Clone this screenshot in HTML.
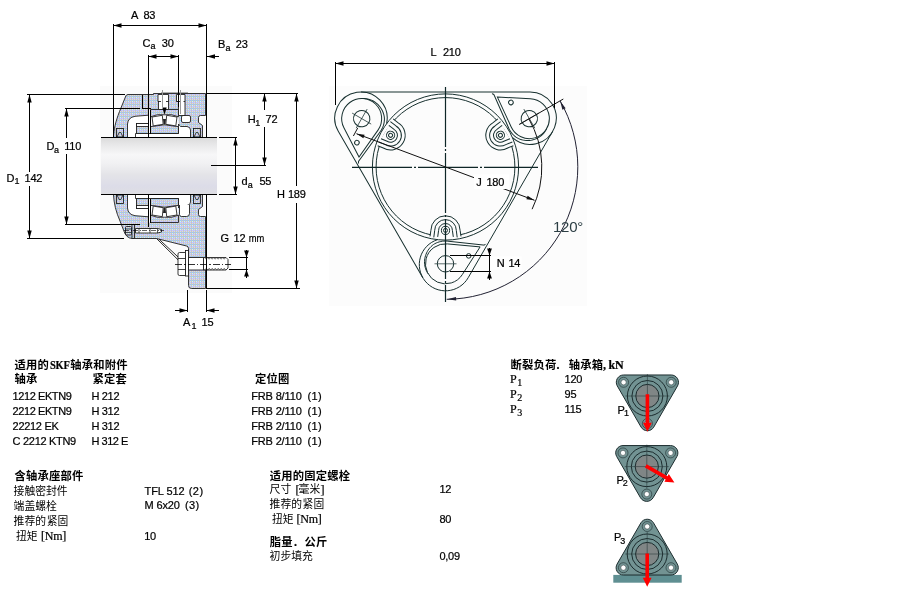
<!DOCTYPE html>
<html><head><meta charset="utf-8"><title>TFL 512</title>
<style>
html,body{margin:0;padding:0;background:#fff}
body{width:900px;height:600px;position:relative;overflow:hidden;font-family:"Liberation Sans",sans-serif}
svg{position:absolute;left:0;top:0;display:block;will-change:transform}
text{font-family:"Liberation Sans",sans-serif;font-size:11px;fill:#000;letter-spacing:-.25px;stroke:#000;stroke-width:.22px}
text.cb{font-family:"Liberation Sans","Noto Sans CJK SC",sans-serif;font-size:11.3px;font-weight:bold;stroke:none;letter-spacing:.2px}
text.cr{font-family:"Liberation Sans","Noto Sans CJK SC",sans-serif;font-size:10.8px;stroke:none;letter-spacing:0}
.ln{stroke:#000;stroke-width:1;fill:none;shape-rendering:crispEdges}
.o{stroke:#151515;stroke-width:.85}
.t{stroke:#17302f;stroke-width:1}
</style></head><body>
<svg width="900" height="600" viewBox="0 0 900 600">
<defs>
<pattern id="dz" width="4" height="4" patternUnits="userSpaceOnUse" shape-rendering="crispEdges">
<rect width="4" height="4" fill="#c6c6c6"/>
<rect x="0" y="0" width="1" height="1" fill="#92c6ff"/><rect x="2" y="0" width="1" height="1" fill="#92c6ff"/>
<rect x="0" y="1" width="1" height="1" fill="#c4fafa"/><rect x="2" y="1" width="1" height="1" fill="#dcdcdc"/>
<rect x="0" y="2" width="3" height="1" fill="#c4c4ff"/>
<rect x="0" y="3" width="1" height="1" fill="#dcdcdc"/><rect x="2" y="3" width="1" height="1" fill="#dcdcdc"/>
</pattern>
<linearGradient id="sh" x1="0" y1="0" x2="0" y2="1">
<stop offset="0" stop-color="#dadada"/><stop offset=".1" stop-color="#e5e5e6"/><stop offset=".3" stop-color="#f7f7f8"/><stop offset=".45" stop-color="#f1f1f3"/><stop offset=".65" stop-color="#e4e4e8"/><stop offset=".85" stop-color="#dcdce8"/><stop offset="1" stop-color="#dedee3"/>
</linearGradient>
</defs>
<rect x="100" y="86" width="132" height="207" fill="#fbfbfb"/><path class="o" d="M113.5,137.5 C113.8,129 115.5,122 119.5,111.5 L125.8,96 Q126.3,94.5 128,94.5 L153.5,94.5 L153.5,93.5 L205.5,93.5 L205.5,115.5 L200.5,115.5 Q198.5,115.5 198.5,117.5 L198.5,122.5 L202.5,125.5 L202.5,137.5 Z" fill="url(#dz)"/><path class="o" d="M127.5,137.5 L127.5,124 Q128,117.5 135,116.3 L148.5,115.2 L148.5,137.5 Z" fill="#fff"/><rect class="o" x="116.5" y="128.5" width="7" height="8.5" fill="url(#dz)"/><path fill="none" style="stroke-width:.8" class="o" d="M117,137 L119.2,132.5 L120.8,132.5 L123,137"/><rect class="o" x="136.5" y="123.5" width="12" height="10.5" fill="url(#dz)"/><rect class="o" x="136.5" y="123.5" width="12" height="3" fill="#fff"/><rect x="148.5" y="109.5" width="30" height="28" fill="#fff"/><path class="o" d="M178.5,124 L180.5,126.5 L187,126.5 Q190.5,127 190.5,130 L190.5,137.5 L135.5,137.5 L135.5,133.5 L178.5,133.5 Z" fill="#fff"/><path class="o" d="M150.5,109.5 H178.5 V116.8 Q171.5,113.6 164.5,114.8 Q157.5,113.6 150.5,116.8 Z" fill="url(#dz)"/><path class="o" d="M150.5,133.5 V126.6 L153.3,126.3 L163.4,124.9 L165.6,124.9 L175.7,126.3 L178.5,126.6 V133.5 Z" fill="url(#dz)"/><polygon class="o" points="152,117 162.3,115.3 163.2,124.3 153.2,125.9" fill="#fff"/><polygon class="o" points="166.7,115.3 177,117 175.8,125.9 165.8,124.3" fill="#fff"/><path d="M163,119 L166,119 L165.3,124.5 L163.7,124.5 Z" fill="#222"/><path class="ln" d="M148.5,108.5 V137.5 M150.5,109.5 V133.5"/><rect class="o" x="181.5" y="115.5" width="9" height="7" rx="1.5" fill="#fff"/><rect class="o" x="193.5" y="128.5" width="7" height="8.5" fill="url(#dz)"/><path fill="none" style="stroke-width:.8" class="o" d="M194,137 L196.2,132.5 L197.8,132.5 L200,137"/><path class="ln" d="M142.5,94.5 V108.5 H150.5"/><path class="o" d="M158,94.5 H168.5 V109.5 H158.5 V101.5 H158 Z" fill="#fff"/><path fill="none" class="o" d="M158,101.5 H161 M166,101.5 H168.5" /><path class="o" d="M176.5,94.5 H185 V115.5 H178.5 V101.5 H176.5 Z" fill="#fff"/><path fill="none" class="o" d="M176.5,101.5 H180 M183.5,101.5 H185" /><path style="stroke:#b0b0b0" class="ln" d="M161,92.5 H188"/><path style="stroke:#999" class="ln" d="M162.5,90 V107 M180.5,90 V114"/><polygon points="162.3,107.5 166.7,107.5 164.5,114.8" fill="#000"/><path class="o" d="M113.5,194.5 C113.8,203 116,212 120,221 L123.5,230 Q126,238.5 132.5,238.5 L156.5,238.5 L186.5,246 Q188.5,246.5 188.5,248.5 L188.5,285.5 Q188.5,288.5 191.5,288.5 L205.5,288.5 L205.5,216.5 L200.5,216.5 Q198.5,216.5 198.5,214.5 L198.5,209.5 L202.5,206.5 L202.5,194.5 Z" fill="url(#dz)"/><g transform="translate(0,332) scale(1,-1)"><path class="o" d="M127.5,137.5 L127.5,124 Q128,117.5 135,116.3 L148.5,115.2 L148.5,137.5 Z" fill="#fff"/><rect class="o" x="116.5" y="128.5" width="7" height="8.5" fill="url(#dz)"/><path fill="none" style="stroke-width:.8" class="o" d="M117,137 L119.2,132.5 L120.8,132.5 L123,137"/><rect class="o" x="136.5" y="123.5" width="12" height="10.5" fill="url(#dz)"/><rect class="o" x="136.5" y="123.5" width="12" height="3" fill="#fff"/><rect x="148.5" y="109.5" width="30" height="28" fill="#fff"/><path class="o" d="M178.5,124 L180.5,126.5 L187,126.5 Q190.5,127 190.5,130 L190.5,137.5 L135.5,137.5 L135.5,133.5 L178.5,133.5 Z" fill="#fff"/><path class="o" d="M150.5,109.5 H178.5 V116.8 Q171.5,113.6 164.5,114.8 Q157.5,113.6 150.5,116.8 Z" fill="url(#dz)"/><path class="o" d="M150.5,133.5 V126.6 L153.3,126.3 L163.4,124.9 L165.6,124.9 L175.7,126.3 L178.5,126.6 V133.5 Z" fill="url(#dz)"/><polygon class="o" points="152,117 162.3,115.3 163.2,124.3 153.2,125.9" fill="#fff"/><polygon class="o" points="166.7,115.3 177,117 175.8,125.9 165.8,124.3" fill="#fff"/><path d="M163,119 L166,119 L165.3,124.5 L163.7,124.5 Z" fill="#222"/><path class="ln" d="M148.5,108.5 V137.5 M150.5,109.5 V133.5"/><path class="o" d="M179.5,127 V117.5 Q179.5,115.5 181.5,115.5 H186.5 Q189.5,115.5 189.5,118.5 V127" fill="#fff"/><rect class="o" x="193.5" y="128.5" width="7" height="8.5" fill="url(#dz)"/><path fill="none" style="stroke-width:.8" class="o" d="M194,137 L196.2,132.5 L197.8,132.5 L200,137"/></g><path class="ln" d="M148.5,223.5 V226.5"/><path fill="none" style="stroke-width:.9" class="o" d="M156.5,238.5 L178,259.8 M159,239.2 L179.8,258.6"/><rect class="o" x="132" y="224.5" width="2.5" height="14" fill="url(#dz)"/><rect class="o" x="125.5" y="226.5" width="6" height="8.5" fill="url(#dz)" rx="1"/><path fill="none" style="stroke-width:.7" class="o" d="M125.5,229 H131 M125.5,232.5 H131"/><path class="o" d="M135.5,228.5 H157.5 L161.5,229.5 V232 L157.5,233 H135.5 Z" fill="#fff"/><path fill="none" style="stroke-width:.7" class="o" d="M139,228.5 V233 M150,228.5 V233 M157.5,228.5 V233"/><path style="stroke-width:.6;stroke-dasharray:5 1.5 1 1.5" class="ln" d="M124,230.5 H164"/><rect class="o" x="188.5" y="257.5" width="15" height="12.5" fill="#fff"/><rect class="o" x="185.5" y="250.5" width="3" height="25.5" fill="#fff"/><path class="o" d="M179.5,252.5 H185.5 V275.5 H179.5 Q178,275.5 178,274 V254 Q178,252.5 179.5,252.5 Z" fill="#fff"/><path fill="none" style="stroke-width:.8" class="o" d="M178,258.5 H185.5 M178,269.5 H185.5"/><path class="o" d="M203.5,257.5 H226 L228,259.5 V268 L226,270 H203.5 Z" fill="#fff"/><path fill="none" style="stroke:#333;stroke-width:.7" class="o" d="M203.5,258.6 L204.75,257.4  L206.25,259.2  L207.75,257.4  L209.25,259.2  L210.75,257.4  L212.25,259.2  L213.75,257.4  L215.25,259.2  L216.75,257.4  L218.25,259.2  L219.75,257.4  L221.25,259.2  L222.75,257.4  L224.25,259.2  L225.75,257.4  M203.5,268.9 L204.75,270.1  L206.25,268.3  L207.75,270.1  L209.25,268.3  L210.75,270.1  L212.25,268.3  L213.75,270.1  L215.25,268.3  L216.75,270.1  L218.25,268.3  L219.75,270.1  L221.25,268.3  L222.75,270.1  L224.25,268.3  L225.75,270.1 "/><path style="stroke-width:.8;stroke-dasharray:7 2 1.5 2" class="ln" d="M175,264.5 H231"/><path class="ln" d="M206.5,194.5 V289"/><rect x="101" y="137.5" width="116" height="57" fill="url(#sh)"/><path class="ln" d="M101,137.5 H217 M101,194.5 H217"/><path class="ln" d="M113.5,24 V137 M206.5,24 V137 M113.5,25.5 H206.5"/><polygon points="113.5,25.5 121.5,23.3 121.5,27.7" fill="#000"/><polygon points="206.5,25.5 198.5,27.7 198.5,23.3" fill="#000"/><text x="131" y="18.6">A</text><text x="143.5" y="18.6">83</text><path class="ln" d="M148.5,55 V108 M178.5,55 V107 M148.5,56.5 H178.5"/><polygon points="148.5,56.5 156.5,54.3 156.5,58.7" fill="#000"/><polygon points="178.5,56.5 170.5,58.7 170.5,54.3" fill="#000"/><text x="142.5" y="46.6">C</text><text x="150.6" y="49.2" style="font-size:9px;">a</text><text x="161.8" y="46.6">30</text><path class="ln" d="M207,56.5 H219"/><polygon points="207.0,56.5 215.0,54.3 215.0,58.7" fill="#000"/><text x="218" y="48.4">B</text><text x="225.4" y="51.2" style="font-size:9px;">a</text><text x="235.8" y="48.4">23</text><path class="ln" d="M27,94.5 H125 M27,238.5 H124 M29.5,95 V171.5 M29.5,185.5 V238"/><polygon points="29.5,94.5 31.7,102.5 27.3,102.5" fill="#000"/><polygon points="29.5,238.5 27.3,230.5 31.7,230.5" fill="#000"/><text x="6.5" y="181.6">D</text><text x="14.6" y="184.2" style="font-size:9px;">1</text><text x="24.6" y="181.6">142</text><path class="ln" d="M65,108.5 H140 M65,224.5 H140 M66.5,109 V137.5 M66.5,154 V224"/><polygon points="66.5,108.5 68.7,116.5 64.3,116.5" fill="#000"/><polygon points="66.5,224.5 64.3,216.5 68.7,216.5" fill="#000"/><text x="46.5" y="149.8">D</text><text x="54" y="152.5" style="font-size:9px;">a</text><text x="64.3" y="149.8">110</text><path class="ln" d="M207,93.5 H298 M207,288.5 H300 M296.5,94 V186 M296.5,203 V288 M264.5,94 V110 M264.5,127 V165 M211,165.5 H266"/><polygon points="296.5,93.5 298.7,101.5 294.3,101.5" fill="#000"/><polygon points="296.5,288.5 294.3,280.5 298.7,280.5" fill="#000"/><polygon points="264.5,93.5 266.7,101.5 262.3,101.5" fill="#000"/><polygon points="264.5,165.5 262.3,157.5 266.7,157.5" fill="#000"/><text x="247.8" y="122.6">H</text><text x="255.2" y="125.6" style="font-size:9px;">1</text><text x="265.6" y="122.6">72</text><text x="277" y="198.2">H</text><text x="288" y="198.2">189</text><path class="ln" d="M219,137.5 H237 M219,194.5 H237 M235.5,138 V194"/><polygon points="235.5,137.5 237.7,145.5 233.3,145.5" fill="#000"/><polygon points="235.5,194.5 233.3,186.5 237.7,186.5" fill="#000"/><text x="241.4" y="185">d</text><text x="247.8" y="188" style="font-size:9px;">a</text><text x="259.5" y="185">55</text><path class="ln" d="M229,257.5 H248 M229,269.5 H248 M246.5,249.5 V277.5"/><polygon points="246.5,257.5 244.1,250.5 248.9,250.5" fill="#000"/><polygon points="246.5,269.5 248.9,276.5 244.1,276.5" fill="#000"/><text x="220.4" y="241.8">G</text><text x="233.6" y="241.8">12</text><text x="248.8" y="241.8" textLength="15.2" lengthAdjust="spacingAndGlyphs">mm</text><path class="ln" d="M187.5,290 V312 M206.5,290 V312 M175,310.5 H187 M207,310.5 H219"/><polygon points="187.5,310.5 179.5,312.7 179.5,308.3" fill="#000"/><polygon points="206.5,310.5 214.5,308.3 214.5,312.7" fill="#000"/><text x="183" y="325.5">A</text><text x="191.6" y="328.6" style="font-size:9px;">1</text><text x="201.6" y="325.5">15</text><rect x="329" y="86" width="258" height="220" fill="#fcfcfc"/><g transform="rotate(0 445.5 167.0)"><path class="t" d="M552.7,131.3 L468.2,277.7 A26.2,26.2 0 1 1 437.4,239.7" fill="none"/></g><g transform="rotate(120 445.5 167.0)"><path class="t" d="M552.7,131.3 L468.2,277.7 A26.2,26.2 0 1 1 437.4,239.7" fill="none"/></g><g transform="rotate(240 445.5 167.0)"><path class="t" d="M552.7,131.3 L468.2,277.7 A26.2,26.2 0 1 1 437.4,239.7" fill="none"/></g><circle fill="none" class="t" cx="445.5" cy="167.0" r="73.1"/><circle fill="none" class="t" cx="445.5" cy="167.0" r="69.4"/><g transform="rotate(0 445.5 167.0)"><path class="t" d="M428.2,273.8 L427.4,272.6 L426.7,271.4 L426.1,270.1 L425.6,268.8 L425.2,267.4 L424.9,266.0 L424.6,264.5 L424.5,263.1 L424.5,261.6 L424.6,260.1 L424.8,258.6 L425.1,257.2 L425.5,255.7 L426.0,254.3 L426.6,252.9 L427.3,251.5 L428.1,250.2 L429.0,248.9 L430.0,247.7 L431.0,246.6 L432.2,245.5 L433.5,244.5 L434.8,243.7 L436.2,243.0 L437.7,242.4 L439.2,241.9 L440.8,241.5 L442.3,241.2 L443.9,241.1 L445.5,241.0 L447.1,241.1 L484.0,245.1 Q485.2,244.9 485.8,243.9" fill="none"/><path class="t" d="M480.1,246.9 L462.3,274.6 A20,20 0 1 1 447.3,243.9 Z" fill="none"/><circle fill="none" class="t" cx="445.5" cy="263.8" r="8.2"/><path fill="none" style="stroke-width:.7" class="t" d="M434.5,263.8 H456.5 M445.5,252.8 V274.8"/><circle fill="none" class="t" cx="468.7" cy="255.9" r="2.3"/><path d="M430.0,236.9 L430.9,230.4 A14.6,14.6 0 0 1 460.1,230.4 L461.0,236.9 Z" fill="#fcfcfc" stroke="none"/><path fill="none" class="t" d="M430.0,236.4 L430.9,230.4 A14.6,14.6 0 0 1 460.1,230.4 L461.0,236.4"/><path fill="none" class="t" d="M433.8,237.4 L434.7,230.4 A10.8,10.8 0 0 1 456.3,230.4 L457.2,237.4"/><path fill="none" class="t" d="M437.70000000000005,236.9 L438.6,230.4 A6.9,6.9 0 0 1 452.4,230.4 L453.29999999999995,236.9"/><circle fill="none" class="t" cx="445.5" cy="230.4" r="4.1"/><circle fill="none" class="t" cx="445.5" cy="230.4" r="2"/></g><g transform="rotate(120 445.5 167.0)"><path class="t" d="M428.2,273.8 L427.4,272.6 L426.7,271.4 L426.1,270.1 L425.6,268.8 L425.2,267.4 L424.9,266.0 L424.6,264.5 L424.5,263.1 L424.5,261.6 L424.6,260.1 L424.8,258.6 L425.1,257.2 L425.5,255.7 L426.0,254.3 L426.6,252.9 L427.3,251.5 L428.1,250.2 L429.0,248.9 L430.0,247.7 L431.0,246.6 L432.2,245.5 L433.5,244.5 L434.8,243.7 L436.2,243.0 L437.7,242.4 L439.2,241.9 L440.8,241.5 L442.3,241.2 L443.9,241.1 L445.5,241.0 L447.1,241.1 L484.0,245.1 Q485.2,244.9 485.8,243.9" fill="none"/><path class="t" d="M480.1,246.9 L462.3,274.6 A20,20 0 1 1 447.3,243.9 Z" fill="none"/><circle fill="none" class="t" cx="445.5" cy="263.8" r="8.2"/><path fill="none" style="stroke-width:.7" class="t" d="M434.5,263.8 H456.5 M445.5,252.8 V274.8"/><circle fill="none" class="t" cx="468.7" cy="255.9" r="2.3"/><path d="M430.0,236.9 L430.9,230.4 A14.6,14.6 0 0 1 460.1,230.4 L461.0,236.9 Z" fill="#fcfcfc" stroke="none"/><path fill="none" class="t" d="M430.0,236.4 L430.9,230.4 A14.6,14.6 0 0 1 460.1,230.4 L461.0,236.4"/><path fill="none" class="t" d="M433.8,237.4 L434.7,230.4 A10.8,10.8 0 0 1 456.3,230.4 L457.2,237.4"/><path fill="none" class="t" d="M437.70000000000005,236.9 L438.6,230.4 A6.9,6.9 0 0 1 452.4,230.4 L453.29999999999995,236.9"/><circle fill="none" class="t" cx="445.5" cy="230.4" r="4.1"/><circle fill="none" class="t" cx="445.5" cy="230.4" r="2"/></g><g transform="rotate(240 445.5 167.0)"><path class="t" d="M428.2,273.8 L427.4,272.6 L426.7,271.4 L426.1,270.1 L425.6,268.8 L425.2,267.4 L424.9,266.0 L424.6,264.5 L424.5,263.1 L424.5,261.6 L424.6,260.1 L424.8,258.6 L425.1,257.2 L425.5,255.7 L426.0,254.3 L426.6,252.9 L427.3,251.5 L428.1,250.2 L429.0,248.9 L430.0,247.7 L431.0,246.6 L432.2,245.5 L433.5,244.5 L434.8,243.7 L436.2,243.0 L437.7,242.4 L439.2,241.9 L440.8,241.5 L442.3,241.2 L443.9,241.1 L445.5,241.0 L447.1,241.1 L484.0,245.1 Q485.2,244.9 485.8,243.9" fill="none"/><path class="t" d="M480.1,246.9 L462.3,274.6 A20,20 0 1 1 447.3,243.9 Z" fill="none"/><circle fill="none" class="t" cx="445.5" cy="263.8" r="8.2"/><path fill="none" style="stroke-width:.7" class="t" d="M434.5,263.8 H456.5 M445.5,252.8 V274.8"/><circle fill="none" class="t" cx="468.7" cy="255.9" r="2.3"/><path d="M430.0,236.9 L430.9,230.4 A14.6,14.6 0 0 1 460.1,230.4 L461.0,236.9 Z" fill="#fcfcfc" stroke="none"/><path fill="none" class="t" d="M430.0,236.4 L430.9,230.4 A14.6,14.6 0 0 1 460.1,230.4 L461.0,236.4"/><path fill="none" class="t" d="M433.8,237.4 L434.7,230.4 A10.8,10.8 0 0 1 456.3,230.4 L457.2,237.4"/><path fill="none" class="t" d="M437.70000000000005,236.9 L438.6,230.4 A6.9,6.9 0 0 1 452.4,230.4 L453.29999999999995,236.9"/><circle fill="none" class="t" cx="445.5" cy="230.4" r="4.1"/><circle fill="none" class="t" cx="445.5" cy="230.4" r="2"/></g><path fill="none" style="stroke:#0e2627;stroke-width:1.2;stroke-dasharray:60 2 2 2" class="t" d="M445.5,87 V302 M352,167.3 H538"/><path fill="none" style="stroke:#111" class="t" d="M356.5,133.7 L534.5,200.3"/><polygon points="356.5,133.7 364.6,134.8 363.4,138.2" fill="#111"/><polygon points="534.5,200.3 526.4,199.2 527.6,195.8" fill="#111"/><path fill="none" style="stroke:#111" class="t" d="M353.4,136 L357.8,127.8"/><path fill="none" style="stroke:#111" class="t" d="M528.9,118.9 A96.3,96.3 0 0 1 532.1,209.2"/><path fill="none" style="stroke:#111" class="t" d="M519.1,124.5 L563.3,99.0"/><path fill="none" style="stroke:#223" class="t" d="M560.1,100.9 A132.3,132.3 0 0 1 446.7,299.3"/><polygon points="560.1,100.9 565.6,108.2 562.4,109.7" fill="#223"/><polygon points="447.2,299.3 456.0,297.0 456.2,300.6" fill="#223"/><text x="553" y="231.8" style="font-size:15px;fill:#2c3e44;stroke:none;">120°</text><rect x="474" y="174.5" width="35" height="14.5" fill="#fff"/><text x="476.2" y="185.5">J</text><text x="486.4" y="185.5">180</text><path class="ln" d="M335.5,62 V105 M554.5,62 V108 M335.5,63.5 H554.5"/><polygon points="335.5,63.5 343.5,61.3 343.5,65.7" fill="#000"/><polygon points="554.5,63.5 546.5,65.7 546.5,61.3" fill="#000"/><text x="430.5" y="55.6">L</text><text x="443" y="55.6">210</text><rect x="490.5" y="256.5" width="31" height="13" fill="#fff"/><path class="ln" d="M450,255.5 H491 M450,271.5 H491 M489.5,247.5 V279.5"/><polygon points="489.5,255.5 487.1,248.5 491.9,248.5" fill="#000"/><polygon points="489.5,271.5 491.9,278.5 487.1,278.5" fill="#000"/><text x="496.8" y="266.7">N</text><text x="508.4" y="266.7">14</text><text class="cb" x="14.6" y="369.3">适用的</text><text x="50" y="369.4" style="font-size:12px;font-family:'Liberation Serif',serif;font-weight:bold;" textLength="19.6" lengthAdjust="spacingAndGlyphs">SKF</text><text class="cb" x="70.2" y="369.3">轴承和附件</text><text class="cb" x="14.6" y="383.4">轴承</text><text class="cb" x="92.6" y="383.4">紧定套</text><text x="12.6" y="400.2" style="letter-spacing:-0.42px">1212 EKTN9</text><text x="91.4" y="400.2" style="letter-spacing:-0.3px">H 212</text><text x="251.2" y="400.2" style="letter-spacing:-0.15px">FRB 8/110</text><text x="307.6" y="400.2" style="letter-spacing:0.3px">(1)</text><text x="12.6" y="415" style="letter-spacing:-0.42px">2212 EKTN9</text><text x="91.4" y="415" style="letter-spacing:-0.3px">H 312</text><text x="251.2" y="415" style="letter-spacing:-0.15px">FRB 2/110</text><text x="307.6" y="415" style="letter-spacing:0.3px">(1)</text><text x="12.6" y="429.7" style="letter-spacing:-0.3px">22212 EK</text><text x="91.4" y="429.7" style="letter-spacing:-0.3px">H 312</text><text x="251.2" y="429.7" style="letter-spacing:-0.15px">FRB 2/110</text><text x="307.6" y="429.7" style="letter-spacing:0.3px">(1)</text><text x="12.6" y="444.5" style="letter-spacing:-0.3px">C 2212 KTN9</text><text x="91.4" y="444.5" style="letter-spacing:-0.45px">H 312 E</text><text x="251.2" y="444.5" style="letter-spacing:-0.15px">FRB 2/110</text><text x="307.6" y="444.5" style="letter-spacing:0.3px">(1)</text><text class="cb" x="14.5" y="480.1">含轴承座部件</text><text class="cr" x="13.6" y="494.9">接触密封件</text><text x="144.6" y="494.6" style="letter-spacing:-0.1px">TFL 512</text><text x="188.8" y="494.6" style="letter-spacing:0.4px">(2)</text><text class="cr" x="13.6" y="510.1">端盖螺栓</text><text x="144.4" y="509.4" style="letter-spacing:-0.1px">M 6x20</text><text x="185" y="509.4" style="letter-spacing:0.4px">(3)</text><text class="cr" x="13.6" y="525.1">推荐的</text><text class="cr" x="46.8" y="525.1">紧固</text><text class="cr" x="16" y="540.1">扭矩</text><text x="41" y="540" style="font-size:12px;font-family:'Liberation Serif',serif;">[Nm]</text><text x="144.2" y="539.6">10</text><text class="cb" x="255" y="383.4">定位圈</text><text class="cb" x="269.8" y="479.8">适用的固定螺栓</text><text class="cr" x="269.6" y="493.3">尺寸</text><text x="295.6" y="493.6" style="font-size:12px;font-family:'Liberation Serif',serif;">[</text><text class="cr" x="298.6" y="493.3">毫米</text><text x="320.6" y="493.6" style="font-size:12px;font-family:'Liberation Serif',serif;">]</text><text x="439.4" y="492.7">12</text><text class="cr" x="269.6" y="508.3">推荐的</text><text class="cr" x="302.6" y="508.3">紧固</text><text class="cr" x="272" y="523.3">扭矩</text><text x="296.6" y="523.2" style="font-size:12px;font-family:'Liberation Serif',serif;">[Nm]</text><text x="439.4" y="522.7">80</text><text class="cb" x="269.8" y="546">脂量</text><text x="294" y="545.6" style="font-size:12px;font-family:'Liberation Serif',serif;font-weight:bold;">.</text><text class="cb" x="304.6" y="546">公斤</text><text class="cr" x="269.6" y="560.1">初步填充</text><text x="439.4" y="559.7">0,09</text><text class="cb" x="510.6" y="369.1">断裂负荷</text><text x="556.5" y="368.8" style="font-size:12px;font-family:'Liberation Serif',serif;font-weight:bold;">.</text><text class="cb" x="568.8" y="369.1">轴承箱</text><text x="603" y="368.8" style="font-size:12px;font-family:'Liberation Serif',serif;font-weight:bold;">, kN</text><text x="510" y="382.6" style="font-size:12px;font-family:'Liberation Serif',serif;">P</text><text x="517.2" y="386.20000000000005" style="font-size:10px;font-family:'Liberation Serif',serif;">1</text><text x="564.6" y="382.6">120</text><text x="510" y="397.6" style="font-size:12px;font-family:'Liberation Serif',serif;">P</text><text x="517.2" y="401.20000000000005" style="font-size:10px;font-family:'Liberation Serif',serif;">2</text><text x="564.6" y="397.6">95</text><text x="510" y="412.6" style="font-size:12px;font-family:'Liberation Serif',serif;">P</text><text x="517.2" y="416.20000000000005" style="font-size:10px;font-family:'Liberation Serif',serif;">3</text><text x="564.6" y="412.6">115</text><path d="M623.60,374.97 L671.20,374.97 A7.3,7.3 0 0 1 677.52,385.92 L653.72,427.12 A7.3,7.3 0 0 1 641.08,427.12 L617.28,385.92 A7.3,7.3 0 0 1 623.60,374.97Z" fill="#729393" stroke="#1c2c2e" stroke-width="1"/><circle cx="623.6" cy="382.3" r="5" fill="none" stroke="#1c2c2e" stroke-width=".6"/><circle cx="671.2" cy="382.3" r="5" fill="none" stroke="#1c2c2e" stroke-width=".6"/><circle cx="647.4" cy="423.5" r="5" fill="none" stroke="#1c2c2e" stroke-width=".6"/><circle cx="647.4" cy="396.0" r="20" fill="#729393" stroke="#1c2c2e" stroke-width="1"/><circle cx="647.4" cy="396.0" r="15.5" fill="none" stroke="#1c2c2e" stroke-width="1"/><circle cx="647.4" cy="396.0" r="11.6" fill="#808686" stroke="#1c2c2e" stroke-width="1"/><path d="M625.4,396.0 H669.4 M647.4,374.0 V418.0" stroke="#1c2c2e" stroke-width=".5" fill="none"/><circle cx="623.6" cy="382.3" r="2.6" fill="#fff" stroke="#1c2c2e" stroke-width=".5"/><circle cx="671.2" cy="382.3" r="2.6" fill="#fff" stroke="#1c2c2e" stroke-width=".5"/><circle cx="647.4" cy="423.5" r="2.6" fill="#fff" stroke="#1c2c2e" stroke-width=".5"/><polygon points="645.6,394.3 645.6,422.8 643.0,422.8 647.4,431.8 651.8,422.8 649.2,422.8 649.2,394.3" fill="#f00"/><text x="617.6" y="413.8">P</text><text x="623.9" y="416.1" style="font-size:9px;">1</text><path d="M623.00,445.57 L670.60,445.57 A7.3,7.3 0 0 1 676.92,456.52 L653.12,497.72 A7.3,7.3 0 0 1 640.48,497.72 L616.68,456.52 A7.3,7.3 0 0 1 623.00,445.57Z" fill="#729393" stroke="#1c2c2e" stroke-width="1"/><circle cx="623.0" cy="452.9" r="5" fill="none" stroke="#1c2c2e" stroke-width=".6"/><circle cx="670.6" cy="452.9" r="5" fill="none" stroke="#1c2c2e" stroke-width=".6"/><circle cx="646.8" cy="494.1" r="5" fill="none" stroke="#1c2c2e" stroke-width=".6"/><circle cx="646.8" cy="466.6" r="20" fill="#729393" stroke="#1c2c2e" stroke-width="1"/><circle cx="646.8" cy="466.6" r="15.5" fill="none" stroke="#1c2c2e" stroke-width="1"/><circle cx="646.8" cy="466.6" r="11.6" fill="#808686" stroke="#1c2c2e" stroke-width="1"/><path d="M624.8,466.6 H668.8 M646.8,444.6 V488.6" stroke="#1c2c2e" stroke-width=".5" fill="none"/><circle cx="623.0" cy="452.9" r="2.6" fill="#fff" stroke="#1c2c2e" stroke-width=".5"/><circle cx="670.6" cy="452.9" r="2.6" fill="#fff" stroke="#1c2c2e" stroke-width=".5"/><circle cx="646.8" cy="494.1" r="2.6" fill="#fff" stroke="#1c2c2e" stroke-width=".5"/><polygon points="644.9,467.5 665.7,479.5 664.4,481.7 674.4,482.4 668.8,474.1 667.5,476.3 646.7,464.3" fill="#f00"/><text x="616.4" y="483.8">P</text><text x="622.6999999999999" y="486.1" style="font-size:9px;">2</text><rect x="613.3" y="574.9" width="68.4" height="7.8" fill="#5f8f92"/><path d="M653.52,522.88 L677.32,564.08 A7.3,7.3 0 0 1 671.00,575.03 L623.40,575.03 A7.3,7.3 0 0 1 617.08,564.08 L640.88,522.88 A7.3,7.3 0 0 1 653.52,522.88Z" fill="#729393" stroke="#1c2c2e" stroke-width="1"/><circle cx="647.2" cy="526.5" r="5" fill="none" stroke="#1c2c2e" stroke-width=".6"/><circle cx="671.0" cy="567.7" r="5" fill="none" stroke="#1c2c2e" stroke-width=".6"/><circle cx="623.4" cy="567.7" r="5" fill="none" stroke="#1c2c2e" stroke-width=".6"/><circle cx="647.2" cy="554.0" r="20" fill="#729393" stroke="#1c2c2e" stroke-width="1"/><circle cx="647.2" cy="554.0" r="15.5" fill="none" stroke="#1c2c2e" stroke-width="1"/><circle cx="647.2" cy="554.0" r="11.6" fill="#808686" stroke="#1c2c2e" stroke-width="1"/><path d="M625.2,554.0 H669.2 M647.2,532.0 V576.0" stroke="#1c2c2e" stroke-width=".5" fill="none"/><circle cx="647.2" cy="526.5" r="2.6" fill="#fff" stroke="#1c2c2e" stroke-width=".5"/><circle cx="671.0" cy="567.7" r="2.6" fill="#fff" stroke="#1c2c2e" stroke-width=".5"/><circle cx="623.4" cy="567.7" r="2.6" fill="#fff" stroke="#1c2c2e" stroke-width=".5"/><polygon points="645.4,553.5 645.4,577.8 642.8,577.8 647.2,586.8 651.6,577.8 649.0,577.8 649.0,553.5" fill="#f00"/><text x="614" y="541.4">P</text><text x="620.3" y="543.6999999999999" style="font-size:9px;">3</text>
</svg>
</body></html>
